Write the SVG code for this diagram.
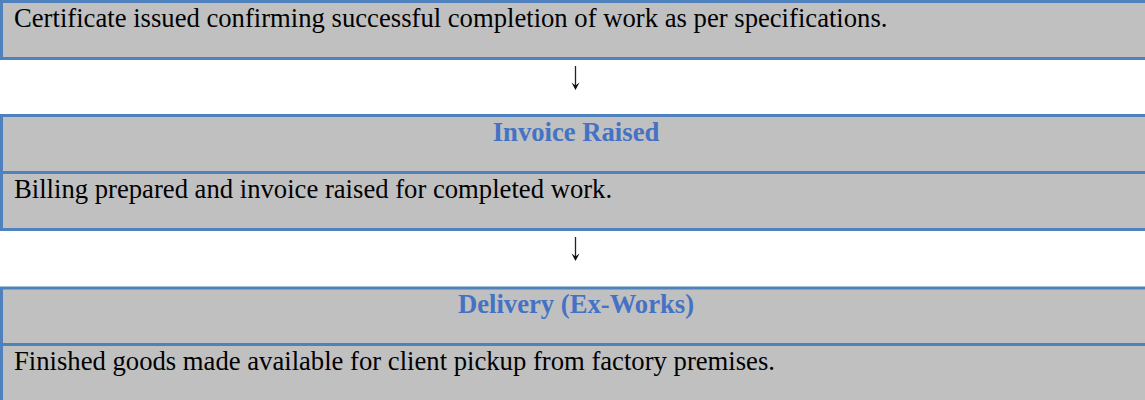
<svg xmlns="http://www.w3.org/2000/svg" width="1145" height="400" viewBox="0 0 1145 400">
  <style>
    .cell { fill: #C0C0C0; stroke: #4F81BD; stroke-width: 3; }
    .rule { stroke: #4F81BD; stroke-width: 3; fill: none; }
    .body { font-family: "Liberation Serif", "Times New Roman", serif; font-size: 26.67px; fill: #000; }
    .head { font-family: "Liberation Serif", "Times New Roman", serif; font-size: 26.67px; font-weight: bold; fill: #4472C4; text-anchor: middle; }
    .shaft { stroke: #222; stroke-width: 1.3; fill: none; }
    .tip { fill: #111; stroke: none; }
  </style>
  <defs>
    <!-- down-arrow: thin shaft with a notched head, origin at the tip -->
    <g id="down-arrow">
      <line class="shaft" x1="0" y1="-24" x2="0" y2="-3"/>
      <path class="tip" d="M -4 -7.5 L 0 -4.5 L 4 -7.5 L 0 0 Z"/>
    </g>
  </defs>
  <rect width="1145" height="400" fill="#FFFFFF"/>

  <!-- step: inspection certificate -->
  <g id="node-certificate">
    <rect class="cell" x="1.5" y="1.5" width="1152" height="57"/>
    <text class="body" x="14" y="27">Certificate issued confirming successful completion of work as per specifications.</text>
  </g>

  <!-- step: invoice -->
  <g id="node-invoice">
    <rect class="cell" x="1.5" y="115.5" width="1152" height="114"/>
    <line class="rule" x1="1.5" y1="172.5" x2="1153.5" y2="172.5"/>
    <text class="head" x="576" y="141">Invoice Raised</text>
    <text class="body" x="14" y="198">Billing prepared and invoice raised for completed work.</text>
  </g>

  <!-- step: delivery -->
  <g id="node-delivery">
    <rect class="cell" x="1.5" y="288" width="1152" height="130"/>
    <line class="rule" x1="1.5" y1="344.5" x2="1153.5" y2="344.5"/>
    <text class="head" x="576" y="312.5">Delivery (Ex-Works)</text>
    <text class="body" x="14" y="370">Finished goods made available for client pickup from factory premises.</text>
  </g>

  <!-- flow arrows between steps -->
  <g id="connectors">
    <use href="#down-arrow" x="575.5" y="90"/>
    <use href="#down-arrow" x="575.5" y="261"/>
  </g>
</svg>
